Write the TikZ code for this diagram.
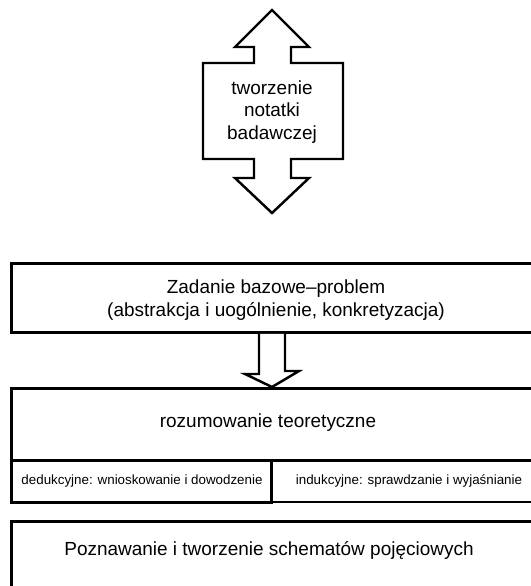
\documentclass[tikz,border=0pt]{standalone}
\usepackage{fontspec}
\setmainfont{Liberation Sans}
\usepackage{tikz}
\usetikzlibrary{calc}
\definecolor{notaline}{HTML}{000000}
\tikzset{%
  notaframe/.style={%
    draw=notaline,
    line width=1.7pt,
    fill=white,
    anchor=north west,
    inner sep=0pt
  },
  notathin/.style={notaframe,line width=1.1pt},
  notatext/.style={%
    font=\fontsize{10.8}{13.4}\selectfont,
    align=center,
    inner sep=0pt
  },
  notasmall/.style={font=\fontsize{7.6}{9}\selectfont,inner sep=0pt},
  notaarrow/.style={draw=notaline,line width=1.4pt,fill=white,line join=miter}
}

\begin{document}
\begin{tikzpicture}[x=0.2mm,y=-0.2mm]
    \useasboundingbox (0,0) rectangle (531,586);
    \clip (0,0) rectangle (531,586);

    % research note double arrow
    \draw[notaarrow] (272,10) -- (309,47) -- (291,47) -- (291,63) -- (343,63)
      -- (343,159) -- (291,159) -- (291,178) -- (309,178) -- (272,213)
      -- (235,178) -- (254,178) -- (254,159) -- (203,159) -- (203,63)
      -- (254,63) -- (254,47) -- (235,47) -- cycle;
    \node[notatext,font=\fontsize{10.8}{12.8}\selectfont] (notatka) at (272,112) {tworzenie\\notatki\\badawczej};

    \node[notaframe,minimum width=107mm,minimum height=13.8mm] (zadanie) at (10,262) {};
    \node[notathin,minimum width=55mm,minimum height=8.4mm] (indukcja) at (270,459) {};
    \node[notaframe,minimum width=52mm,minimum height=8.4mm] (dedukcja) at (10,459) {};
    \node[notaframe,minimum width=107mm,minimum height=14.4mm] (rozumowanie) at (10,387) {};
    \node[notaframe,minimum width=107mm,minimum height=20mm] (poznawanie) at (10,520) {};

    \node[notatext] (zadanietxt) at (276,300) {Zadanie bazowe--problem\\(abstrakcja i uogólnienie, konkretyzacja)};
    \node[notatext] (rozumowanietxt) at (268,423) {rozumowanie teoretyczne};
    \node[notasmall] (dedukcjatxt) at (142,481) {dedukcyjne: wnioskowanie i dowodzenie};
    \node[notasmall] (indukcjatxt) at (409,481) {indukcyjne: sprawdzanie i wyjaśnianie};
    \node[notatext] (poznawanietxt) at (269,550) {Poznawanie i tworzenie schematów pojęciowych};

    \draw[notaarrow] ($(notatka |- zadanie.south)+(-13,0)$) -- ++(0,40) -- ++(-14,0)
      -- (notatka |- rozumowanie.north) -- ($(notatka |- rozumowanie.north)+(27,-16)$)
      -- ++(-14,0) -- ($(notatka |- zadanie.south)+(13,0)$);
  \end{tikzpicture}
\end{document}
